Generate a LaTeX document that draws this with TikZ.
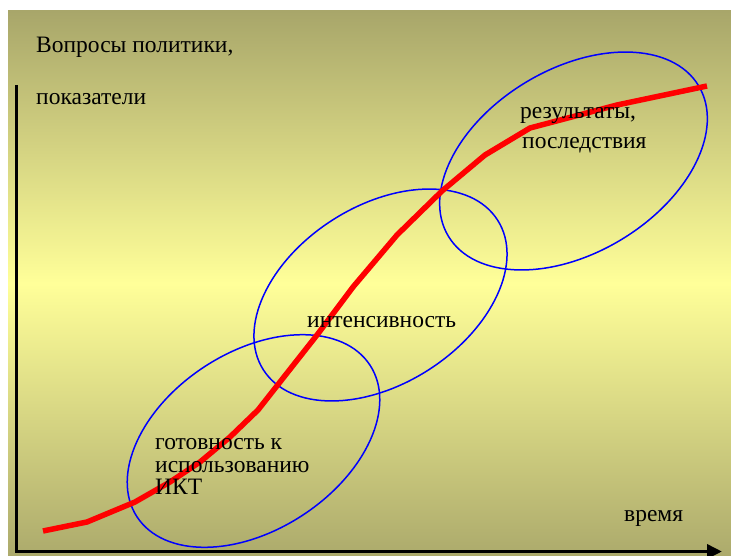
\documentclass[tikz,border=0pt]{standalone}
\usepackage{fontspec}
\setmainfont{Liberation Serif}
\usetikzlibrary{arrows.meta,calc,positioning}
\definecolor{bgtop}{RGB}{168,166,106}
\definecolor{bgmid}{RGB}{255,255,153}
\definecolor{bgbot}{RGB}{172,170,108}
\tikzset{
  lbl/.style={anchor=base west,inner sep=0pt,font=\fontsize{23.5}{23.5}\selectfont},
  zone/.style={draw=blue,line width=1.5pt},
}
\begin{document}
\begin{tikzpicture}[x=1pt,y=-1pt]
\useasboundingbox (0,0) rectangle (731,556);
\fill[white] (0,0) rectangle (731,556);
\shade[top color=bgtop,bottom color=bgbot,middle color=bgmid] (8,11) rectangle (731,556);
% axes
\coordinate (ytop) at (16.5,85);
\coordinate (xend) at (722,551.5);
\draw[line width=3.5pt,-{Triangle[length=15pt,width=14pt]}] (ytop) |- (xend);
% zones
\coordinate (c1) at (253.5,441);
\coordinate (c2) at (380.5,295);
\coordinate (c3) at (573.5,161);
\draw[zone,rotate around={33:(c1)}] (c1) ellipse (139 and 89);
\draw[zone,rotate around={32.6:(c2)}] (c2) ellipse (139 and 89);
\draw[zone,rotate around={31:(c3)}] (c3) ellipse (146 and 92);
% curve
\draw[red,line width=5.5pt,line join=round] (43,531)--(87,522)--(135,502)--(170,482)--(200,462)--(230,437)--(258,410)--(280,382)--(317,335)--(353,287)--(397,235)--(442,191)--(485,155)--(530,128)--(617,105)--(707,86);
% labels
\node[lbl] (policy) at (36,53) {Вопросы политики,};
\node[lbl] (indic) at (36,105) {показатели};
\node[lbl] (result) at (520,119) {результаты,};
\node[lbl] (effect) at (522,149) {последствия};
\node[lbl] (intens) at (307,327) {интенсивность};
\node[lbl] (ready) at (155,449) {готовность к};
\node[lbl] (usage) at (155,472) {использованию};
\node[lbl] (ict) at (155,494) {ИКТ};
\node[lbl] (time) at (624,521) {время};
\end{tikzpicture}
\end{document}
